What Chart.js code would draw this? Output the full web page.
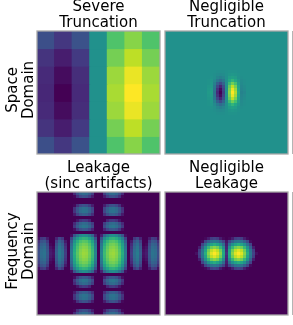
<!DOCTYPE html>
<html>
<head>
<meta charset="utf-8">
<script src="https://cdn.jsdelivr.net/npm/chart.js@4/dist/chart.umd.min.js"></script>
<style>
    html, body { margin: 0; padding: 0; background: #fff; width: 293px; height: 325px; overflow: hidden; }
    #page { position: relative; width: 293px; height: 325px; overflow: hidden; }
    canvas { position: absolute; }
    .clipped { position: absolute; left: 292px; width: 1px; background: #b4b4b4; }
</style>
</head>
<body>
<div id="page">
    <canvas id="severeTruncation" width="201" height="162" style="left:0;top:-6px"></canvas>
    <canvas id="negligibleTruncation" width="131" height="162" style="left:163px;top:-6px"></canvas>
    <canvas id="leakage" width="201" height="162" style="left:0;top:155px"></canvas>
    <canvas id="negligibleLeakage" width="131" height="162" style="left:163px;top:155px"></canvas>
    <div class="clipped" style="top:31px;height:123px"></div>
    <div class="clipped" style="top:192px;height:123px"></div>
</div>
<script>
// Titles
const severeTitle = ['Severe', 'Truncation'];
const negligibleTruncationTitle = ['Negligible', 'Truncation'];
const leakageTitle = ['Leakage', '(sinc artifacts)'];
const negligibleLeakageTitle = ['Negligible', 'Leakage'];
const spaceLabel = ['Space', 'Domain'];
const frequencyLabel = ['Frequency', 'Domain'];

// Colour values in percent of the colour range
const severeCells = [
    [24, 16, 25, 50, 72, 82, 72],
    [15, 8, 17, 50, 79, 90, 79],
    [12, 3, 13, 50, 85, 97, 85],
    [11, 0, 12, 50, 87, 100, 87],
    [12, 3, 13, 50, 85, 97, 85],
    [15, 8, 17, 50, 79, 90, 79],
    [24, 16, 25, 50, 72, 82, 72]
];

// Quarter of each finer panel: centre cell first, going outwards.
// Short rows and missing rows are plain background.
const negligibleTruncationQuarter = [
    [50, 82, 100, 88, 62, 44, 46],
    [50, 80, 97, 85, 61, 45, 47],
    [50, 76, 90, 79, 59, 46, 48],
    [50, 68, 78, 70, 56, 47, 49],
    [50, 60, 65, 60, 53, 48, 49],
    [50, 55, 57, 55, 51, 49],
    [50, 52, 53, 52, 51],
    [50, 51, 51, 51]
];

const leakageQuarter = [
    [0, 45, 68, 78, 84, 85, 82, 74, 62, 40, 0, 18, 36, 42, 30, 5, 8, 28, 38, 36, 24],
    [0, 44, 67, 77, 83, 84, 81, 73, 61, 39, 0, 17, 35, 41, 29, 4, 7, 27, 37, 35, 23],
    [0, 42, 65, 75, 81, 82, 79, 71, 59, 37, 0, 15, 33, 39, 27, 2, 5, 25, 35, 33, 21],
    [0, 39, 62, 72, 78, 79, 76, 68, 56, 34, 0, 12, 30, 36, 24, 0, 2, 22, 32, 30, 18],
    [0, 34, 57, 67, 73, 74, 71, 63, 51, 29, 0, 7, 25, 31, 19, 0, 0, 17, 27, 25, 13],
    [0, 25, 48, 58, 64, 65, 62, 54, 42, 20, 0, 0, 16, 22, 10, 0, 0, 8, 18, 16, 4],
    [0, 9, 32, 42, 48, 49, 46, 38, 26, 4],
    [],
    [0, 0, 10, 20, 26, 27, 24, 16, 4],
    [0, 0, 22, 32, 38, 39, 36, 28, 16],
    [0, 0, 18, 28, 34, 35, 32, 24, 12],
    [0, 0, 0, 10, 16, 17, 14, 6],
    [],
    [0, 0, 13, 23, 29, 30, 27, 19, 7],
    [0, 0, 21, 31, 37, 38, 35, 27, 15],
    [0, 0, 20, 30, 36, 37, 34, 26, 14],
    [0, 0, 8, 18, 24, 25, 22, 14, 2],
    [],
    [],
    [0, 0, 8, 18, 24, 25, 22, 14, 2],
    [0, 0, 18, 28, 34, 35, 32, 24, 12]
];

const negligibleLeakageQuarter = [
    [15, 60, 82, 95, 100, 95, 82, 62, 40, 20, 4],
    [12, 58, 78, 90, 95, 90, 78, 58, 38, 18],
    [10, 48, 66, 78, 82, 78, 66, 50, 30, 8],
    [8, 35, 50, 58, 62, 58, 50, 35, 20],
    [5, 20, 30, 38, 40, 38, 30, 20, 3],
    [0, 2, 8, 18, 20, 18, 8, 2]
];

const QUARTER_SIZE = 21;

// viridis stops, every 10%
const viridis = [
    [68, 1, 84], [72, 36, 117], [65, 68, 135], [53, 95, 141], [42, 120, 142], [33, 145, 140],
    [34, 168, 132], [68, 191, 112], [122, 209, 81], [189, 223, 38], [253, 231, 37]
];

function colorFor(percent) {
    const pos = Math.min(Math.max(percent, 0), 100) / 10;
    const low = Math.min(Math.floor(pos), 9);
    const t = pos - low;
    const rgb = viridis[low].map((c, i) => Math.round(c + (viridis[low + 1][i] - c) * t));
    return `rgb(${rgb[0]}, ${rgb[1]}, ${rgb[2]})`;
}

// Unfold a quarter table into the whole panel. Left half is either the mirror
// image or, when oddSides is set, the mirror image flipped around the background.
function unfold(quarter, background, oddSides) {
    const size = QUARTER_SIZE * 2 - 1;
    const centre = QUARTER_SIZE - 1;
    const rows = [];
    for (let r = 0; r < size; r++) {
        const row = [];
        const source = quarter[Math.abs(r - centre)] || [];
        for (let c = 0; c < size; c++) {
            const value = source[Math.abs(c - centre)] ?? background;
            row.push(oddSides && c < centre ? 2 * background - value : value);
        }
        rows.push(row);
    }
    return rows;
}

const panelFrame = {
    id: 'panelFrame',
    afterDatasetsDraw(chart) {
        const { ctx, chartArea: a } = chart;
        ctx.save();
        ctx.strokeStyle = '#a8a8a8';
        ctx.lineWidth = 1.3;
        ctx.strokeRect(a.left, a.top, a.right - a.left, a.bottom - a.top);
        ctx.restore();
    }
};

const textFont = { family: '"DejaVu Sans"', size: 15, weight: 'normal', lineHeight: '16.5px' };

// Rotated row label, sits a bit above the panel centre like the original
const rowLabel = {
    id: 'rowLabel',
    afterDraw(chart, args, opts) {
        if (!opts.lines) return;
        const { ctx } = chart;
        ctx.save();
        ctx.font = '15px "DejaVu Sans"';
        ctx.fillStyle = '#000';
        ctx.textAlign = 'center';
        ctx.textBaseline = 'alphabetic';
        opts.lines.forEach((line, i) => {
            ctx.save();
            ctx.translate(16.7 + i * 16, 96);
            ctx.rotate(-Math.PI / 2);
            ctx.fillText(line, 0, 0);
            ctx.restore();
        });
        ctx.restore();
    }
};

function drawPanel(id, title, cells, yLabel) {
    const points = [];
    cells.forEach((row, y) => row.forEach((v, x) => points.push({ x, y, v })));
    const n = cells.length;
    const canvas = document.getElementById(id);
    const left = yLabel ? 37 : 2;
    const PANEL = 123;

    new Chart(canvas, {
        type: 'scatter',
        data: {
            datasets: [{
                data: points,
                pointStyle: 'rect',
                pointBorderWidth: 0,
                pointBackgroundColor: c => colorFor(c.raw ? c.raw.v : 0),
                // rect side is radius * sqrt(2); coarse cells do not land on whole
                // pixels, so they overlap by a pixel to hide the seams
                pointRadius: () => (PANEL / n + (PANEL % n ? 1 : 0)) * Math.SQRT1_2
            }]
        },
        options: {
            responsive: false,
            animation: false,
            events: [],
            layout: { autoPadding: false, padding: { left, right: canvas.width - left - PANEL, bottom: 2 } },
            plugins: {
                legend: { display: false },
                tooltip: { enabled: false },
                rowLabel: { lines: yLabel },
                title: {
                    display: true,
                    text: title,
                    color: '#000',
                    font: textFont,
                    padding: { top: 4.6, bottom: -0.6 }
                }
            },
            scales: {
                x: { type: 'linear', display: false, min: -0.5, max: n - 0.5 },
                y: { type: 'linear', display: false, min: -0.5, max: n - 0.5 }
            }
        },
        plugins: [panelFrame, rowLabel]
    });
}

document.addEventListener('DOMContentLoaded', () => {
    drawPanel('severeTruncation', severeTitle, severeCells, spaceLabel);
    drawPanel('negligibleTruncation', negligibleTruncationTitle, unfold(negligibleTruncationQuarter, 50, true));
    drawPanel('leakage', leakageTitle, unfold(leakageQuarter, 0, false), frequencyLabel);
    drawPanel('negligibleLeakage', negligibleLeakageTitle, unfold(negligibleLeakageQuarter, 0, false));
});
</script>
</body>
</html>
